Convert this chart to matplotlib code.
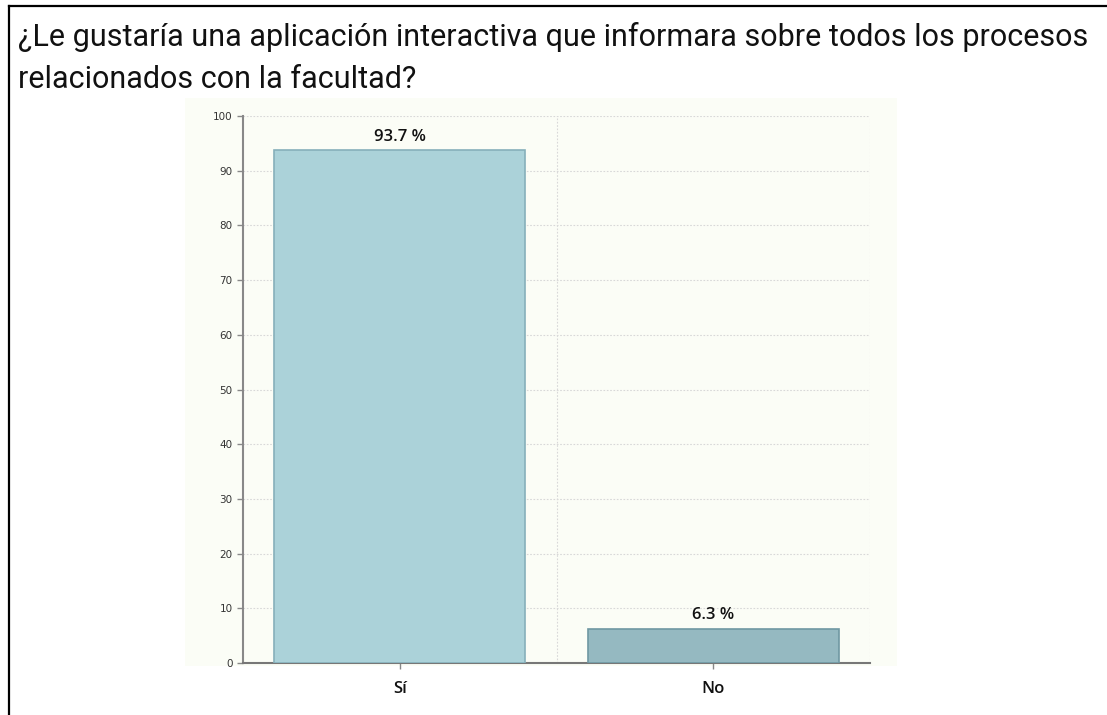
import matplotlib
matplotlib.use('Agg')

import matplotlib.pyplot as plt
from matplotlib.patches import Rectangle
from matplotlib.lines import Line2D

# datos
categorias = ["Sí", "No"]
porcentajes = [93.7, 6.3]
etiquetas = ["93.7 %", "6.3 %"]
y_ticks = list(range(0, 101, 10))

titulo = ("¿Le gustaría una aplicación interactiva que informara sobre todos los procesos\n"
          "relacionados con la facultad?")

colores = ["#abd2d9", "#95b9c1"]
bordes = ["#86b0ba", "#6f98a2"]

W, H = 1107, 715
fig = plt.figure(figsize=(W / 100, H / 100), dpi=100, facecolor='white')

# marco de la captura
fig.add_artist(Line2D([9 / W, 1.0], [1 - 6 / H, 1 - 6 / H], color='black', lw=1.6))
fig.add_artist(Line2D([9 / W, 9 / W], [0, 1 - 6 / H], color='black', lw=1.6))

# fondo del grafico
fig.add_artist(Rectangle((185 / W, 1 - 666 / H), (897 - 185) / W, (666 - 98) / H,
                         transform=fig.transFigure, facecolor='#fbfdf6',
                         edgecolor='none', zorder=0))

fig.text(18 / W, 1 - 22 / H, titulo, fontsize=22, family='Roboto',
         color='#111111', ha='left', va='top', linespacing=1.58)

ax = fig.add_axes([243 / W, 1 - 663 / H, (870 - 243) / W, (663 - 116) / H])
ax.set_facecolor('none')

x = list(range(len(categorias)))
ax.bar(x, porcentajes, width=0.8, color=colores, edgecolor=bordes, linewidth=1.2, zorder=3)

for xi, v, lab in zip(x, porcentajes, etiquetas):
    ax.text(xi, v + 1.0, lab, ha='center', va='bottom', fontsize=12,
            color='#111111', family='Open Sans', weight='semibold')

ax.set_xlim(-0.5, 1.5)
ax.set_ylim(0, 100)
ax.set_yticks(y_ticks)
ax.set_xticks(x)
ax.set_xticklabels(categorias, fontsize=12, color='#111111',
                   family='Open Sans', weight='semibold')

# rejilla punteada
ax.yaxis.grid(True, linestyle=(0, (1.5, 1.5)), color='#d8d8d8', linewidth=0.8, zorder=0)
ax.axvline(0.5, linestyle=(0, (1.5, 1.5)), color='#d8d8d8', linewidth=0.8, zorder=0)
ax.axvline(1.5, linestyle=(0, (1.5, 1.5)), color='#d8d8d8', linewidth=0.8, zorder=0)

for s in ['top', 'right']:
    ax.spines[s].set_visible(False)
ax.spines['left'].set_color('#888888')
ax.spines['left'].set_linewidth(1.5)
ax.spines['bottom'].set_color('#777777')
ax.spines['bottom'].set_linewidth(1.5)

ax.tick_params(axis='y', labelsize=7.5, labelcolor='#333333', color='#888888',
               length=4, width=1)
ax.tick_params(axis='x', color='#888888', length=4, width=1, pad=9)

fig.savefig('out.png', dpi=100, facecolor='white')
